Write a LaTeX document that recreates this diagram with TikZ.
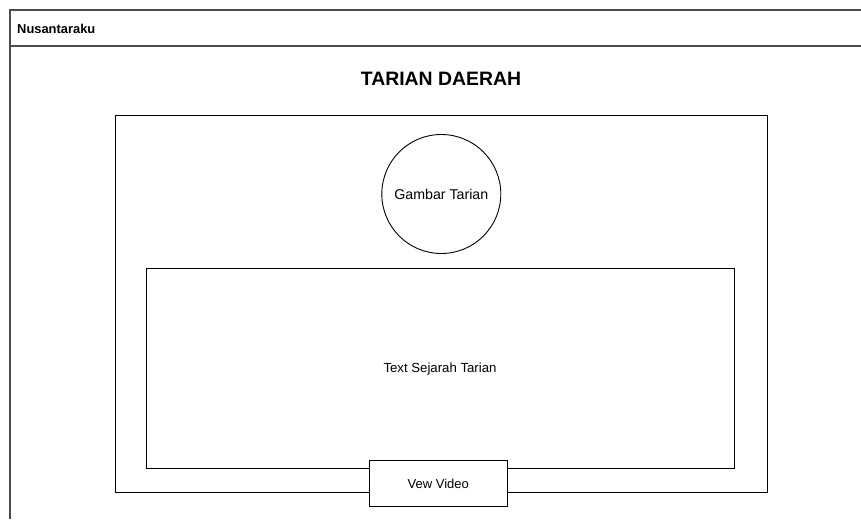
\documentclass[tikz,border=0pt]{standalone}
\usepackage{fontspec}
\setmainfont{Liberation Sans}
\begin{document}
\begin{tikzpicture}[x=1pt,y=-1pt,
  frameline/.style={draw=black!70,line width=1.1pt},
  boxline/.style={draw=black,line width=0.9pt},
  lbl/.style={inner sep=0pt,anchor=center,font=\fontsize{13.2}{15}\selectfont}]
\useasboundingbox (0,0) rectangle (861,519);
% outer frame (cropped)
\draw[frameline] (10,519) -- (10,10) -- (870,10);
\draw[frameline] (10,46) -- (870,46);
\node[inner sep=0pt,anchor=west,font=\fontsize{12.9}{14}\selectfont\bfseries] (hdr) at (17,28.5) {Nusantaraku};
\node[inner sep=0pt,font=\fontsize{19.4}{22}\selectfont\bfseries] (title) at (441,78.5) {TARIAN DAERAH};
% content box
\draw[boxline] (115,115) rectangle (767,492);
% picture circle
\node[boxline,circle,minimum size=119pt,inner sep=0pt,font=\fontsize{14.2}{16}\selectfont] (gambar) at (441.3,194) {Gambar Tarian};
% text area
\node[boxline,rectangle,minimum width=588pt,minimum height=200.5pt,inner sep=0pt] (sejarah) at (440,368.5) {};
\node[lbl] (sejarahtxt) at (440,369.5) {Text Sejarah Tarian};
% video button
\node[boxline,rectangle,fill=white,minimum width=138pt,minimum height=46.7pt,inner sep=0pt,font=\fontsize{13}{15}\selectfont] (video) at (438.3,483.4) {\raisebox{-1pt}{Vew Video}};
\end{tikzpicture}
\end{document}
